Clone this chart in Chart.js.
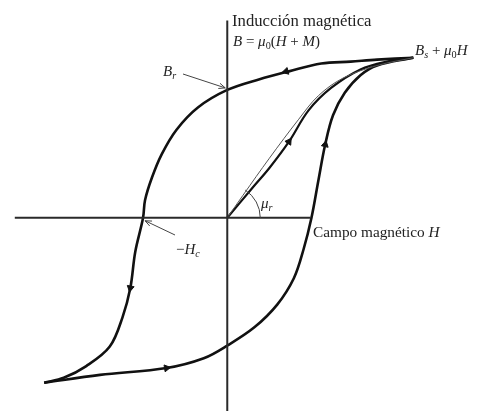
<!DOCTYPE html>
<html><head><meta charset="utf-8">
<script src="https://cdn.jsdelivr.net/npm/chart.js@4"></script>
<style>html,body{margin:0;padding:0;background:#fff}canvas{display:block}</style>
</head><body>
<canvas id="c" width="480" height="416"></canvas>
<script>
// Hysteresis loop (arbitrary units: H horizontal, B vertical)
const upperH = [19.0, 15.3, 12.6, 9.6, 6.3, 3.3, 0.0, -3.0, -5.2, -6.7, -7.7, -8.4, -8.6, -9.4, -9.9, -10.7, -12.0, -14.4, -16.7, -18.7];
const upperB = [16.4, 16.2, 16.0, 15.8, 15.0, 14.2, 13.1, 11.3, 9.0, 6.5, 4.1, 1.8, 0.0, -3.5, -7.2, -10.2, -13.2, -15.2, -16.4, -16.9];
const lowerH = [-18.7, -13.0, -6.2, -2.4, 0.0, 2.8, 5.1, 6.8, 7.8, 8.6, 9.3, 10.0, 10.8, 12.0, 13.6, 15.3, 19.0];
const lowerB = [-16.9, -16.1, -15.4, -14.4, -13.1, -11.2, -8.9, -6.2, -3.2, 0.0, 3.8, 7.5, 10.5, 12.8, 14.6, 15.6, 16.4];
const initH = [0.0, 2.6, 4.3, 6.3, 8.3, 10.6, 13.6, 16.3, 19.0];
const initB = [0.0, 3.1, 5.1, 7.8, 11.0, 13.3, 15.2, 16.0, 16.4];
const permH = [0.0, 1.6, 4.3, 7.3, 9.3, 11.8, 15.3, 19.0];
const permB = [0.0, 2.3, 6.1, 10.1, 12.5, 14.3, 15.6, 16.4];
const axisHx = [-21.7, 8.5], axisHy = [0, 0];
const axisVx = [0, 0], axisVy = [20.2, -19.8];
const arrowH = [6.0, -9.9, -6.2, 10.0, 6.3];
const arrowB = [15.0, -7.2, -15.4, 7.5, 7.8];
const arrowRot = [256, 191, 81, 13, 34];

const pts = (xs, ys) => xs.map((x, i) => ({x: x, y: ys[i]}));
const SERIF = '"Liberation Serif", "DejaVu Serif", serif';

function rich(ctx, x, y, parts, size) {
  for (const p of parts) {
    const s = p.sub ? size * 0.68 : size;
    ctx.font = (p.i ? 'italic ' : '') + s + 'px ' + SERIF;
    ctx.fillText(p.t, x, y + (p.sub ? size * 0.22 : 0));
    x += ctx.measureText(p.t).width;
  }
}
function arrowLine(ctx, x1, y1, x2, y2) {
  ctx.beginPath(); ctx.moveTo(x1, y1); ctx.lineTo(x2, y2); ctx.stroke();
  const a = Math.atan2(y2 - y1, x2 - x1), L = 7, w = 0.4;
  ctx.beginPath();
  ctx.moveTo(x2 - L * Math.cos(a - w), y2 - L * Math.sin(a - w));
  ctx.lineTo(x2, y2);
  ctx.lineTo(x2 - L * Math.cos(a + w), y2 - L * Math.sin(a + w));
  ctx.stroke();
}

const annot = {
  id: 'annot',
  afterDatasetsDraw(chart) {
    const ctx = chart.ctx, sx = chart.scales.x, sy = chart.scales.y;
    const ox = sx.getPixelForValue(0), oy = sy.getPixelForValue(0);
    ctx.save();
    ctx.fillStyle = '#222'; ctx.strokeStyle = '#444'; ctx.lineWidth = 1;
    ctx.textBaseline = 'alphabetic';
    // mu_r arc
    ctx.beginPath(); ctx.arc(ox, oy, 33, -57 * Math.PI / 180, 0); ctx.stroke();
    rich(ctx, 232, 26, [{t: 'Inducción magnética'}], 16.7);
    rich(ctx, 233, 46, [{t: 'B', i: 1}, {t: ' = '}, {t: 'μ', i: 1}, {t: '0', sub: 1}, {t: '('}, {t: 'H', i: 1}, {t: ' + '}, {t: 'M', i: 1}, {t: ')'}], 15);
    rich(ctx, 415, 55, [{t: 'B', i: 1}, {t: 's', i: 1, sub: 1}, {t: ' + '}, {t: 'μ', i: 1}, {t: '0', sub: 1}, {t: 'H', i: 1}], 15);
    rich(ctx, 163, 76, [{t: 'B', i: 1}, {t: 'r', i: 1, sub: 1}], 15);
    rich(ctx, 176, 254, [{t: '−'}, {t: 'H', i: 1}, {t: 'c', i: 1, sub: 1}], 15);
    rich(ctx, 261, 208, [{t: 'μ', i: 1}, {t: 'r', i: 1, sub: 1}], 15);
    rich(ctx, 313, 237, [{t: 'Campo magnético '}, {t: 'H', i: 1}], 15.3);
    arrowLine(ctx, 183, 74, ox - 2, sy.getPixelForValue(13.1) - 2);
    arrowLine(ctx, 175, 235, sx.getPixelForValue(-8.6) + 2, oy + 3);
    ctx.restore();
  }
};

const line = (data, w, c) => ({data: data, showLine: true, borderColor: c, borderWidth: w, pointRadius: 0, tension: 0.35, fill: false});

new Chart(document.getElementById('c'), {
  type: 'scatter',
  data: {datasets: [
    {data: pts(axisHx, axisHy), showLine: true, borderColor: '#2a2a2a', borderWidth: 2, pointRadius: 0, tension: 0},
    {data: pts(axisVx, axisVy), showLine: true, borderColor: '#2a2a2a', borderWidth: 2, pointRadius: 0, tension: 0},
    line(pts(permH, permB), 1, '#555'),
    line(pts(initH, initB), 2.2, '#111'),
    line(pts(upperH, upperB), 2.6, '#111'),
    line(pts(lowerH, lowerB), 2.6, '#111'),
    {data: pts(arrowH, arrowB), showLine: false, pointStyle: 'triangle', pointRadius: 4, rotation: arrowRot,
     backgroundColor: '#111', borderColor: '#111', borderWidth: 1}
  ]},
  options: {
    responsive: false, devicePixelRatio: 1, animation: false,
    layout: {padding: 0},
    plugins: {legend: {display: false}, tooltip: {enabled: false}},
    events: [],
    scales: {
      x: {type: 'linear', display: false, min: -22.7, max: 25.3},
      y: {type: 'linear', display: false, min: -19.8, max: 21.8}
    }
  },
  plugins: [annot]
});
</script>
</body></html>
